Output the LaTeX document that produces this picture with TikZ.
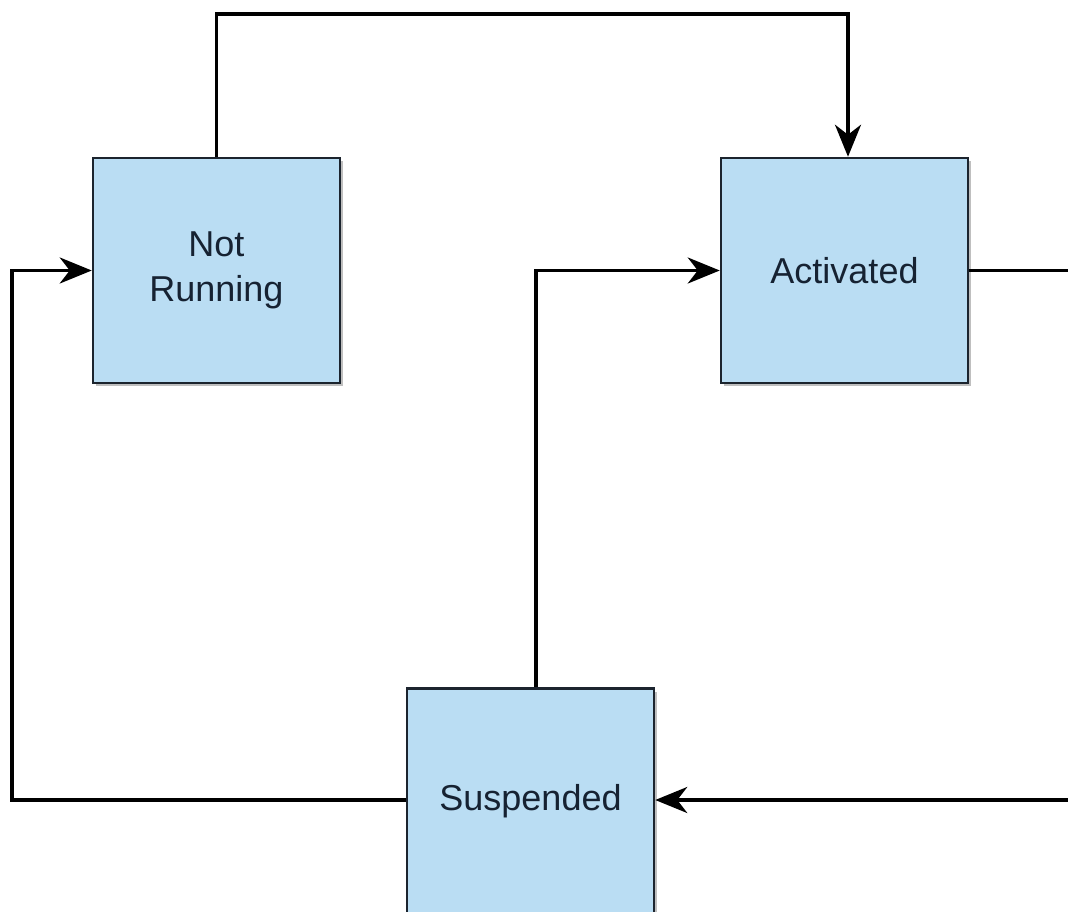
\documentclass[tikz,border=0pt]{standalone}
\usepackage{fontspec}
\setmainfont{Liberation Sans}
\usetikzlibrary{arrows.meta,shadows}
\definecolor{boxfill}{RGB}{186,221,243}
\definecolor{boxline}{RGB}{28,36,46}
\definecolor{txt}{RGB}{22,34,50}
\tikzset{
  state/.style={rectangle, draw=boxline, line width=2.5pt, fill=boxfill,
    minimum width=247pt, minimum height=225pt, inner sep=0pt,
    text=txt, align=center, font=\fontsize{36}{45}\selectfont,
    drop shadow={shadow xshift=3pt, shadow yshift=-3pt, opacity=0.25, fill=black}},
  conn/.style={line width=3.5pt, draw=black, line join=miter},
  arr/.style={conn, -{Stealth[length=32pt,width=26pt,inset=10pt]}}
}
\begin{document}
\begin{tikzpicture}[x=1pt,y=-1pt]
\useasboundingbox (0,0) rectangle (1068,912);
\clip (0,0) rectangle (1068,912);
\fill[white] (0,0) rectangle (1068,912);
\node[state] (nr) at (216.5,270.5) {Not\\Running};
\node[state] (act) at (844.5,270.5) {Activated};
\node[state] (sus) at (530.5,801) {Suspended};
\coordinate (tl) at (216.5,14);
\coordinate (tr) at (848,14);
\coordinate (rr) at (1100,270.5);
\coordinate (rb) at (1100,800);
\coordinate (lb) at (12,800);
\coordinate (lt) at (12,270.5);
\coordinate (mt) at (536,270.5);
\draw[arr] (nr.north) -- (tl) -- (tr) -- ([xshift=3.5pt]act.north);
\draw[arr] (act.east) -- (rr) -- (rb) -- (sus.east |- rb);
\draw[arr] ([xshift=5.5pt]sus.north) -- (mt) -- (act.west);
\draw[arr] (sus.west |- lb) -- (lb) -- (lt) -- (nr.west);
\end{tikzpicture}
\end{document}
